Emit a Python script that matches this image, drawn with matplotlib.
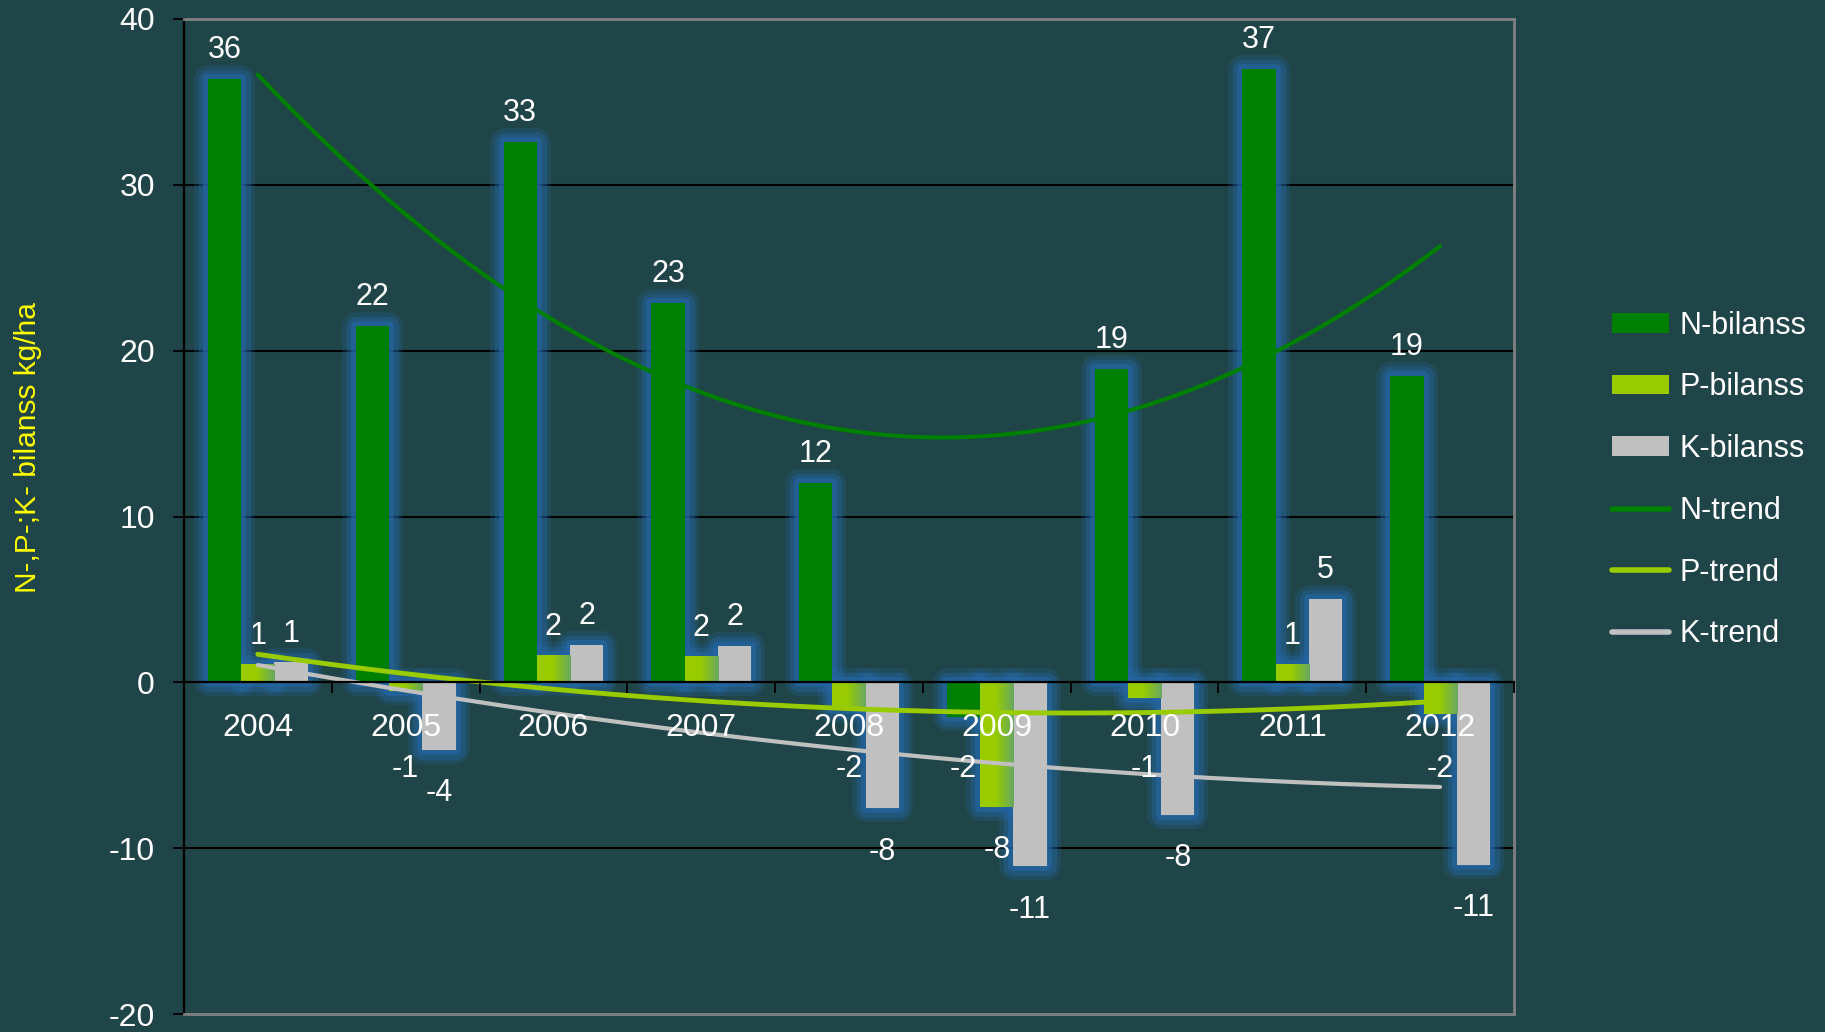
import math

import matplotlib

matplotlib.use("Agg")
import matplotlib.patheffects as pe
import matplotlib.pyplot as plt
import numpy as np
from matplotlib.colors import LinearSegmentedColormap
from matplotlib.lines import Line2D
from matplotlib.patches import Patch

# values (kg/ha)
years = ["2004", "2005", "2006", "2007", "2008", "2009", "2010", "2011", "2012"]
n_balance = [36.4, 21.5, 32.6, 22.9, 12.0, -2.1, 18.9, 37.0, 18.5]
p_balance = [1.05, -0.55, 1.6, 1.55, -1.6, -7.5, -0.95, 1.05, -1.9]
k_balance = [1.2, -4.1, 2.25, 2.2, -7.6, -11.1, -8.0, 5.05, -11.0]
y_ticks = [-20, -10, 0, 10, 20, 30, 40]
bar_labels = ["N-bilanss", "P-bilanss", "K-bilanss"]
trend_labels = ["N-trend", "P-trend", "K-trend"]

BG = "#1f4548"
N_COLOR = "#008000"
P_COLOR = "#99cc00"
K_COLOR = "#c0c0c0"
GLOW = "#2466a4"

plt.rcParams["font.family"] = ["Liberation Sans", "DejaVu Sans"]
plt.rcParams["axes.unicode_minus"] = False


def label_text(v: float) -> str:
    # excel style rounding, half away from zero
    r = math.floor(abs(v) + 0.5)
    return f"-{r}" if v < 0 else f"{r}"


def main() -> None:
    fig = plt.figure(figsize=(18.25, 10.32), dpi=100, facecolor=BG)
    ax = fig.add_axes([0.1008, 0.0174, 0.7288, 0.9642], facecolor=BG)

    x = np.arange(len(years))
    width = 0.225
    series = [
        (n_balance, N_COLOR, -width, 3.0),
        (p_balance, P_COLOR, 0.0, 3.5),
        (k_balance, K_COLOR, width, 3.0),
    ]

    # soft blue halo around every bar
    glow = [
        pe.Stroke(linewidth=20, foreground=GLOW, alpha=0.22, joinstyle="round"),
        pe.Stroke(linewidth=14, foreground=GLOW, alpha=0.4, joinstyle="round"),
        pe.Stroke(linewidth=7, foreground=GLOW, alpha=0.65, joinstyle="round"),
    ]

    containers = []
    for values, color, offset, _ in series:
        halo = ax.bar(x + offset, values, width, color=color, zorder=1.2)
        for b in halo:
            b.set_path_effects(glow)
        bars = ax.bar(x + offset, values, width, color=color, zorder=1.5)
        containers.append(bars)

    # P bars fade into a greyish green on their right side
    p_cmap = LinearSegmentedColormap.from_list(
        "p_grad", [(0.0, P_COLOR), (0.45, P_COLOR), (1.0, "#68a860")]
    )
    grad = np.linspace(0, 1, 64).reshape(1, -1)
    for b in containers[1]:
        ax.imshow(
            grad,
            extent=[b.get_x(), b.get_x() + b.get_width(), b.get_y(), b.get_y() + b.get_height()],
            aspect="auto",
            cmap=p_cmap,
            interpolation="bilinear",
            zorder=1.6,
        )

    # second order polynomial trend lines, as in the original workbook
    xs = np.linspace(0, len(years) - 1, 200)
    for values, color, _, lw in series:
        coef = np.polyfit(x, values, 2)
        ax.plot(xs, np.polyval(coef, xs), color=color, lw=lw, zorder=2,
                solid_capstyle="round")

    for values, color, offset, _ in series:
        for xi, v in zip(x, values):
            if v >= 0:
                ax.annotate(label_text(v), (xi + offset, v), xytext=(0, 10),
                            textcoords="offset points", ha="center", va="bottom",
                            color="white", fontsize=22, zorder=6)
            else:
                ax.text(xi + offset, min(v - 2.6, -5.2), label_text(v),
                        ha="center", va="center", color="white", fontsize=22, zorder=6)

    for t in [-10, 10, 20, 30]:
        ax.axhline(t, color="black", lw=1.5, zorder=1)
    ax.axhline(-20, color="#808080", lw=2, zorder=3, clip_on=False)

    ax.set_xlim(-0.5, len(years) - 0.5)
    ax.set_ylim(-20, 40)
    ax.set_yticks(y_ticks)
    ax.set_xticks(x, years)
    ax.set_xticks(np.arange(-0.5, len(years), 1.0), minor=True)

    ax.tick_params(axis="y", direction="out", length=8, width=1.3, color="black",
                   labelcolor="white", labelsize=23, pad=13)
    ax.tick_params(axis="x", which="major", length=0, labelcolor="white",
                   labelsize=23, pad=22)
    ax.tick_params(axis="x", which="minor", direction="out", length=8, width=1.3,
                   color="black")

    ax.spines["bottom"].set_position(("data", 0))
    ax.spines["bottom"].set_color("black")
    ax.spines["bottom"].set_linewidth(1.6)
    ax.spines["left"].set_color("black")
    ax.spines["left"].set_linewidth(1.6)
    for side in ["top", "right"]:
        ax.spines[side].set_color("#808080")
        ax.spines[side].set_linewidth(2)
    ax.xaxis.set_zorder(7)

    fig.text(28 / 1825, 1 - 448 / 1032, "N-,P-;K- bilanss kg/ha", rotation=90,
             color="#ffff00", fontsize=21.5, ha="center", va="center")

    handles = [Patch(facecolor=c, edgecolor="none") for c in [N_COLOR, P_COLOR, K_COLOR]]
    handles += [
        Line2D([], [], color=c, lw=4, solid_capstyle="round")
        for c in [N_COLOR, P_COLOR, K_COLOR]
    ]
    fig.legend(
        handles,
        bar_labels + trend_labels,
        loc="center left",
        bbox_to_anchor=(1612 / 1825, 1 - 480 / 1032),
        frameon=False,
        fontsize=22,
        labelcolor="white",
        handlelength=1.85,
        handleheight=0.62,
        handletextpad=0.35,
        labelspacing=1.04,
        borderpad=0,
        borderaxespad=0,
    )

    fig.savefig("out.png", dpi=100, facecolor=BG)
    plt.close(fig)


if __name__ == "__main__":
    main()
